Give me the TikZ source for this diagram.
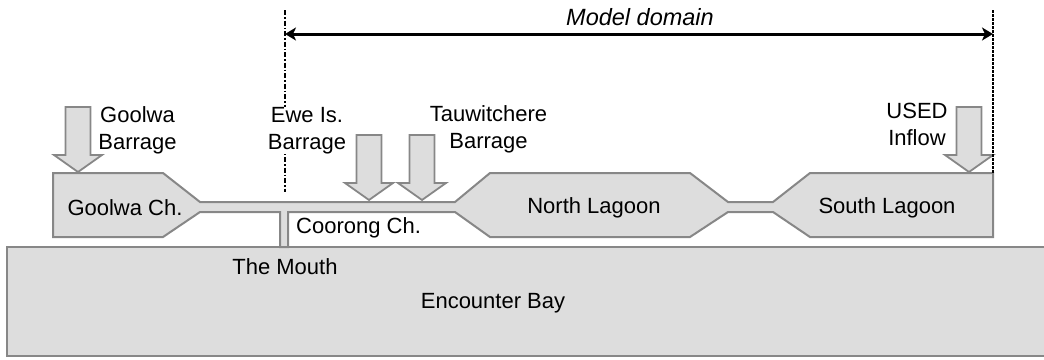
\documentclass[tikz,border=0pt]{standalone}
\usepackage{fontspec}
\setmainfont{Liberation Sans}
\usetikzlibrary{arrows.meta}
\definecolor{waterfill}{RGB}{221,221,221}
\definecolor{wateredge}{RGB}{135,135,135}

\begin{document}
\begin{tikzpicture}[x=1pt,y=-1pt,
  water/.style={fill=waterfill,draw=wateredge,line width=2pt,line join=miter},
  lbl/.style={font=\fontsize{22}{27}\selectfont,inner sep=0pt},
  twoline/.style={lbl,align=center},
  domainline/.style={black,line width=1.6pt,dash pattern=on 5pt off 2pt on 1.5pt off 2pt},
  domainarrow/.style={black,line width=3pt,{Stealth[length=11pt,width=13pt,inset=3pt]}-{Stealth[length=11pt,width=13pt,inset=3pt]}},
  inflow/.pic={\draw[water,line width=1.8pt] (-12.5,-65) -- (12.5,-65) -- (12.5,-17) -- (24,-17)
     -- (0,0) -- (-24,-17) -- (-12.5,-17) -- cycle;}]
\useasboundingbox (0,0) rectangle (1044,359);
\clip (0,0) rectangle (1044,359);

% Encounter Bay
\draw[water] (7,247) rectangle (1060,356);

% channels and lagoons as one water body
\draw[water] (53,173) -- (163,173) -- (200,202) -- (455,202) -- (490,173) -- (690,173)
  -- (728,202) -- (773,202) -- (810,173) -- (993,173) -- (993,237) -- (810,237)
  -- (773,212) -- (728,212) -- (690,237) -- (490,237) -- (455,212) -- (288,212)
  -- (288,247) -- (280,247) -- (280,212) -- (200,212) -- (163,237) -- (53,237) -- cycle;

% inflow arrows
\pic at (78,172) {inflow};
\pic at (369,200) {inflow};
\pic at (422,200) {inflow};
\pic at (969,172) {inflow};

% model domain limits
\coordinate (l1) at (285,10);
\coordinate (l2) at (285,192);
\coordinate (r1) at (993,10);
\coordinate (r2) at (993,173);
\draw[domainline] (l1) -- (l2);
\draw[domainline,dash pattern=on 2.5pt off 1.5pt] (r1) -- (r2);
\coordinate (a1) at (285,34);
\coordinate (a2) at (993,34);
\draw[domainarrow] (a1) -- (a2);
\node[lbl,font=\fontsize{23.5}{27}\selectfont\itshape,anchor=base] (md) at (640,25) {Model domain};

% labels (anchored at the baseline of their last line)
\node[twoline,anchor=base] (gb) at (137.5,149) {Goolwa\\Barrage};
\node[twoline,anchor=base,fill=white] (eb) at (307,149) {Ewe Is.\\Barrage};
\node[twoline,anchor=base] (tb) at (488.5,148) {Tauwitchere\\Barrage};
\node[twoline,anchor=base] (ui) at (917,145) {USED\\Inflow};
\node[lbl,anchor=base] (gc) at (125,215) {Goolwa Ch.};
\node[lbl,anchor=base west] (cc) at (296,233) {Coorong Ch.};
\node[lbl,anchor=base] (nl) at (594,213) {North Lagoon};
\node[lbl,anchor=base] (sl) at (887,213) {South Lagoon};
\node[lbl,anchor=base] (tm) at (285,274) {The Mouth};
\node[lbl,anchor=base] (ebay) at (493,308) {Encounter Bay};
\end{tikzpicture}
\end{document}
